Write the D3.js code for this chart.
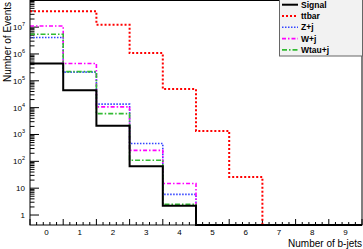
<!DOCTYPE html>
<html><head><meta charset="utf-8">
<script src="https://cdn.jsdelivr.net/npm/d3@7"></script>
<style>html,body{margin:0;padding:0;background:#fff;}svg{display:block;font-family:"Liberation Sans",Arial,sans-serif;}</style>
</head><body><svg id="c" width="363" height="249"></svg>
<script>
const categories = [0,1,2,3,4,5,6,7,8,9];
const signal = [4.4e5, 4.4e4, 2100, 66, 2.2, 0, 0, 0, 0, 0];
const ttbar  = [3.9e7, 3.9e7, 1.23e7, 1.08e6, 4.9e4, 1360, 26, 0, 0, 0];
const zj     = [4.1e6, 2.1e5, 1.35e4, 460, 5.9, 0, 0, 0, 0, 0];
const wj     = [1.1e7, 4.4e5, 1.07e4, 255, 15, 0, 0, 0, 0, 0];
const wtauj  = [5.4e6, 2.2e5, 6000, 110, 2.5, 0, 0, 0, 0, 0];
const seriesNames = ["Signal","ttbar","Z+j","W+j","Wtau+j"];
const yTickExps = [0,1,2,3,4,5,6,7];

const svg = d3.select("#c");
const L = 30, R = 362, T = 0.5, B = 225;
const x = d3.scaleLinear().domain([-0.5, 9.5]).range([L, R]);
const yMin = 0.425, yMax = 9.8e7;
const y = d3.scaleLog().domain([yMin, yMax]).range([B, T]);

const series = [
  {name:"ttbar", data:ttbar, color:"#ff0000", dash:"2,2", w:2},
  {name:"Z+j", data:zj, color:"#3344ff", dash:"1.5,1.5", w:1.6},
  {name:"W+j", data:wj, color:"#ff00ff", dash:"4,2,1.5,2", w:1.6},
  {name:"Wtau+j", data:wtauj, color:"#33bb33", dash:"5,2,1.5,2", w:1.6},
  {name:"Signal", data:signal, color:"#000000", dash:null, w:2}
];

function histPath(data){
  let p = [];
  data.forEach((v,i)=>{
    const yy = y(Math.max(v, yMin));
    p.push([x(categories[i]-0.5), yy]);
    p.push([x(categories[i]+0.5), yy]);
  });
  return d3.line()(p);
}

const g = svg.append("g");
for(let e=-0.5; e<=9.5001; e+=1){
  g.append("line").attr("x1",x(e)).attr("x2",x(e)).attr("y1",B).attr("y2",B-6).attr("stroke","#000");
  if(e<9.4){
    for(let k=1;k<5;k++){
      const xx = x(e+k/5);
      g.append("line").attr("x1",xx).attr("x2",xx).attr("y1",B).attr("y2",B-3).attr("stroke","#000");
    }
  }
}
categories.forEach(c=>{
  g.append("text").attr("x",x(c)).attr("y",B+9.5).attr("text-anchor","middle").attr("font-size",8).text(c);
});
yTickExps.forEach(e=>{
  const v = Math.pow(10,e);
  g.append("line").attr("x1",L).attr("x2",L+9).attr("y1",y(v)).attr("y2",y(v)).attr("stroke","#000");
  for(let m=2;m<=9;m++){
    const mv = m*v;
    if(mv<yMax) g.append("line").attr("x1",L).attr("x2",L+4.5).attr("y1",y(mv)).attr("y2",y(mv)).attr("stroke","#000");
  }
  const t = g.append("text").attr("x",L-5).attr("y",y(v)+3).attr("text-anchor","end").attr("font-size",8);
  if(e===0) t.text("1");
  else if(e===1) t.text("10");
  else { t.append("tspan").text("10"); t.append("tspan").attr("font-size",5.5).attr("dy",-4).text(e); }
});

series.forEach(s=>{
  svg.append("path").attr("d",histPath(s.data)).attr("fill","none").attr("stroke",s.color)
    .attr("stroke-width",s.w).attr("stroke-dasharray",s.dash);
});

svg.append("rect").attr("x",L).attr("y",T).attr("width",R-L).attr("height",B-T).attr("fill","none").attr("stroke","#000").attr("stroke-width",1);

svg.append("text").attr("transform","translate(11,2) rotate(-90)").attr("text-anchor","end").attr("font-size",10).text("Number of Events");
svg.append("text").attr("x",362).attr("y",247).attr("text-anchor","end").attr("font-size",10).text("Number of b-jets");

const lg = svg.append("g");
lg.append("rect").attr("x",279.5).attr("y",-1).attr("width",83).attr("height",57).attr("fill","#f2f2f2").attr("stroke","#666");
const legOrder = ["Signal","ttbar","Z+j","W+j","Wtau+j"];
legOrder.forEach((n,i)=>{
  const s = series.find(d=>d.name===n);
  const yy = 4.7 + i*11.3;
  lg.append("line").attr("x1",282).attr("x2",298).attr("y1",yy).attr("y2",yy).attr("stroke",s.color)
    .attr("stroke-width",s.w).attr("stroke-dasharray",s.dash);
  lg.append("text").attr("x",301).attr("y",yy+3).attr("font-size",8.5).attr("font-weight","bold").text(n);
});
</script></body></html>
